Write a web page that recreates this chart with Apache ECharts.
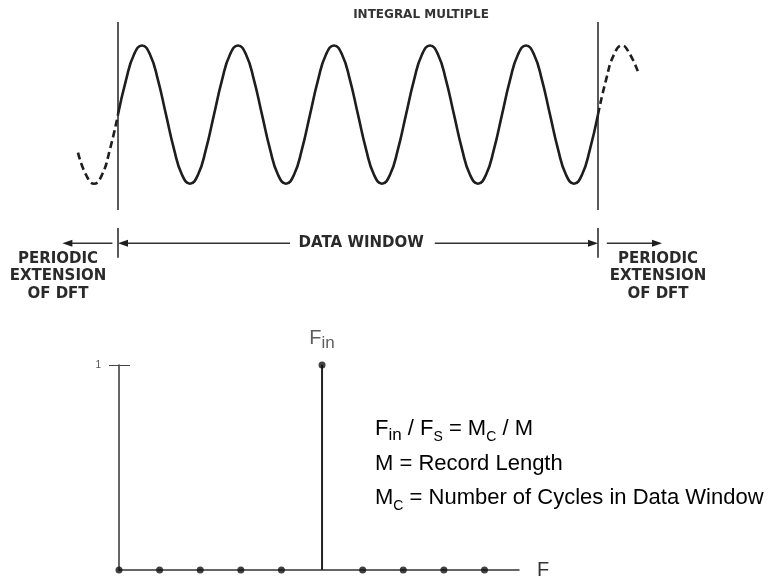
<!DOCTYPE html>
<html><head><meta charset="utf-8">
<script src="https://cdn.jsdelivr.net/npm/echarts@6/dist/echarts.min.js"></script>
<style>html,body{margin:0;padding:0;background:#fff}#c{width:773px;height:580px}</style>
</head><body><div id="c"></div>
<script>
// ---- data; x of the waveform in 1/12-cycle steps ----
const titleText = 'INTEGRAL MULTIPLE';
const windowLabel = 'DATA WINDOW';
const extLabel = 'PERIODIC\nEXTENSION\nOF DFT';
const windowEdges = [0, 60];           // 5 cycles
const waveX = [0,1,2,3,4,5,6,7,8,9,10,11,
               12,13,14,15,16,17,18,19,20,21,22,23,
               24,25,26,27,28,29,30,31,32,33,34,35,
               36,37,38,39,40,41,42,43,44,45,46,47,
               48,49,50,51,52,53,54,55,56,57,58,59,60];
const waveY = [0,0.5,0.87,1,0.87,0.5,0,-0.5,-0.87,-1,-0.87,-0.5,
               0,0.5,0.87,1,0.87,0.5,0,-0.5,-0.87,-1,-0.87,-0.5,
               0,0.5,0.87,1,0.87,0.5,0,-0.5,-0.87,-1,-0.87,-0.5,
               0,0.5,0.87,1,0.87,0.5,0,-0.5,-0.87,-1,-0.87,-0.5,
               0,0.5,0.87,1,0.87,0.5,0,-0.5,-0.87,-1,-0.87,-0.5,0];
const leftExtX = [-5, -4, -3, -2, -1, 0];
const leftExtY = [-0.55, -0.87, -1, -0.87, -0.5, 0];
const rightExtX = [60, 61, 62, 63, 64, 65];
const rightExtY = [0, 0.5, 0.87, 1, 0.87, 0.62];
const arrowSpans = [[-0.7, -6.95], [21.5, 0], [39.6, 60], [61.1, 68]]; // [tail, tip]
const arrowRowY = -1.86, tickTopY = -1.64, tickBotY = -2.07;
const extLabelX = [-7.5, 67.5];
const extLabelY = -2.34;
const windowLabelX = 30.4;

const bins = [0,1,2,3,4,5,6,7,8,9];
const binValues = [0,0,0,0,0,1,0,0,0,0];
const yTickValues = [1];
const xAxisName = 'F';
const formulaLines = [
  '{m|F}{si|in}{m| / F}{ss|S}{m| = M}{ss|C}{m| / M}',
  '{m|M = Record Length}',
  '{m|M}{ss|C}{m| = Number of Cycles in Data Window}'
];

const ink = '#1e1e1e';
const chart = echarts.init(document.getElementById('c'));
const pair = (xs, ys) => xs.map((x, i) => [x, ys[i]]);

const option = {
  animation: false,
  backgroundColor: '#fff',
  grid: [
    {left: 70, right: 127, top: 22, height: 188},
    {left: 119, right: 254, top: 365, bottom: 10}
  ],
  xAxis: [
    {gridIndex: 0, type: 'value', min: -6, max: 66, show: false},
    {gridIndex: 1, type: 'value', min: 0, max: 9.85,
     axisLine: {show: true, lineStyle: {color: '#333', width: 1.5}},
     axisTick: {show: false}, axisLabel: {show: false}, splitLine: {show: false},
     name: xAxisName, nameLocation: 'end', nameGap: 18,
     nameTextStyle: {fontFamily: 'Liberation Sans', fontSize: 20, color: '#333', verticalAlign: 'middle'}}
  ],
  yAxis: [
    {gridIndex: 0, type: 'value', min: -1.38, max: 1.34, show: false},
    {gridIndex: 1, type: 'value', position: 'left', min: 0, max: 1, interval: 1,
     axisLine: {show: true, lineStyle: {color: '#333', width: 1.5}},
     axisTick: {show: true, length: 10, customValues: yTickValues, lineStyle: {color: '#444', width: 1}},
     axisLabel: {show: true, customValues: yTickValues, margin: 18, fontSize: 10, color: '#555', fontFamily: 'Liberation Sans'},
     splitLine: {show: false}},
    {gridIndex: 1, type: 'value', position: 'left', offset: 0, min: 0, max: 1, interval: 1,
     axisLine: {show: false},
     axisTick: {show: true, inside: true, length: 11, customValues: yTickValues, lineStyle: {color: '#444', width: 1}},
     axisLabel: {show: false}, splitLine: {show: false}}
  ],
  series: [
    {type: 'line', xAxisIndex: 0, yAxisIndex: 0, data: pair(waveX, waveY), smooth: 0.5,
     showSymbol: false, lineStyle: {color: ink, width: 2.6}, silent: true,
     markLine: {silent: true, symbol: 'none', label: {show: false},
       lineStyle: {color: '#222', width: 1.5, type: 'solid'},
       data: windowEdges.map(e => ({xAxis: e}))}},
    {type: 'line', xAxisIndex: 0, yAxisIndex: 0, data: pair(leftExtX, leftExtY), smooth: 0.5,
     showSymbol: false, lineStyle: {color: ink, width: 2.6, type: [7, 4]}},
    {type: 'line', xAxisIndex: 0, yAxisIndex: 0, data: pair(rightExtX, rightExtY), smooth: 0.5,
     showSymbol: false, lineStyle: {color: ink, width: 2.6, type: [7, 4]}},
    {type: 'bar', xAxisIndex: 1, yAxisIndex: 1, data: pair(bins, binValues), barWidth: 2,
     itemStyle: {color: '#222'}, silent: true},
    {type: 'scatter', xAxisIndex: 1, yAxisIndex: 1, symbol: 'circle', symbolSize: 7,
     itemStyle: {color: '#111'}, silent: true,
     data: bins.map((b, i) => binValues[i] === 1 ? {
       value: [b, binValues[i]],
       label: {show: true, position: 'top', distance: 10,
         formatter: '{f|F}{i|in}',
         rich: {f: {fontFamily: 'Liberation Sans', fontSize: 20, color: '#333', lineHeight: 26, verticalAlign: 'middle'},
                i: {fontFamily: 'Liberation Sans', fontSize: 17, color: '#333', lineHeight: 17, verticalAlign: 'bottom'}}}
     } : [b, binValues[i]])}
  ]
};
chart.setOption(option);

function px(x, y) { return chart.convertToPixel({xAxisIndex: 0, yAxisIndex: 0}, [x, y]); }
const g = [];
const rowY = px(0, arrowRowY)[1];
arrowSpans.forEach(([t, h]) => {
  const x1 = px(t, 0)[0], x2 = px(h, 0)[0];
  const dir = Math.sign(x2 - x1);
  g.push({type: 'line', shape: {x1: x1, y1: rowY, x2: x2 - dir * 6, y2: rowY}, style: {stroke: '#333', lineWidth: 1.5}});
  g.push({type: 'polygon', shape: {points: [[x2, rowY], [x2 - dir * 10, rowY - 3.5], [x2 - dir * 10, rowY + 3.5]]}, style: {fill: '#1e1e1e'}});
});
windowEdges.forEach(e => {
  const p1 = px(e, tickTopY), p2 = px(e, tickBotY);
  g.push({type: 'line', shape: {x1: p1[0], y1: p1[1], x2: p2[0], y2: p2[1]}, style: {stroke: '#222', lineWidth: 1.5}});
});
const wl = px(windowLabelX, arrowRowY);
g.push({type: 'text', x: wl[0], y: wl[1], style: {text: windowLabel, font: 'bold 15px "DejaVu Sans"', fill: '#2a2a2a', align: 'center', verticalAlign: 'middle'}});
extLabelX.forEach(x => {
  const p = px(x, extLabelY);
  g.push({type: 'text', x: p[0], y: p[1], style: {text: extLabel, font: 'bold 15px "DejaVu Sans"', lineHeight: 17.5, fill: '#2a2a2a', align: 'center', verticalAlign: 'middle'}});
});
g.push({type: 'text', x: 421, y: 15, style: {text: titleText, font: 'bold 12px "DejaVu Sans"', fill: '#333', align: 'center', verticalAlign: 'middle'}});
const rich = {
  m: {fontFamily: 'Liberation Sans', fontSize: 22, color: '#222', lineHeight: 30, verticalAlign: 'middle'},
  si: {fontFamily: 'Liberation Sans', fontSize: 17, color: '#222', lineHeight: 19, verticalAlign: 'bottom'},
  ss: {fontFamily: 'Liberation Sans', fontSize: 14, color: '#222', lineHeight: 15, verticalAlign: 'bottom'}
};
const lineYs = [429, 464, 498];
formulaLines.forEach((t, i) => {
  g.push({type: 'text', x: 375, y: lineYs[i], style: {text: t, rich: rich, align: 'left', verticalAlign: 'middle'}});
});
chart.setOption({graphic: g});
</script></body></html>
